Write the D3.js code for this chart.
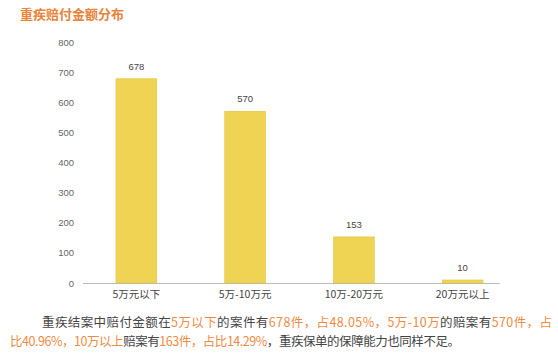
<!DOCTYPE html>
<html><head><meta charset="utf-8">
<script src="https://cdn.jsdelivr.net/npm/d3@7"></script>
<style>body{margin:0;background:#fff;}svg{display:block;font-family:"Noto Sans CJK SC","Noto Sans",sans-serif;}</style>
</head><body>
<svg id="c" width="558" height="358"></svg>
<script>
const categories = ["5万元以下","5万-10万元","10万-20万元","20万元以上"];
const values = [678, 570, 153, 10];
const yTicks = [0,100,200,300,400,500,600,700,800];
const title = "重疾赔付金额分布";
const line1 = [["重疾结案中赔付金额在",0],["5万以下",1],["的案件有",0],["678件，占48.05%，5万-10万",1],["的赔案有",0],["570件，占",1]];
const line2 = [["比40.96%，10万以上",1],["赔案有",0],["163件，占比14.29%",1],["，重疾保单的保障能力也同样不足。",0]];

const svg = d3.select("#c");
const x = d3.scaleBand().domain(categories).range([82,517]).paddingInner(0.625).paddingOuter(0.3125);
const y = d3.scaleLinear().domain([0,800]).range([283,42]);

svg.append("text").attr("x",20).attr("y",19).attr("fill","#e8843a").attr("font-size",13).attr("font-weight","bold").text(title);

const yAxis = svg.append("g").attr("transform","translate(83,0)").call(d3.axisLeft(y).tickValues(yTicks).tickSize(0).tickPadding(9));
yAxis.select(".domain").remove();
yAxis.selectAll("text").attr("fill","#666").attr("font-size",9.5).attr("font-family","Liberation Sans, Arial, sans-serif");

svg.append("line").attr("x1",83).attr("x2",500).attr("y1",283.5).attr("y2",283.5).attr("stroke","#bbb").attr("stroke-width",1.2);

svg.selectAll("rect.bar").data(values).join("rect").attr("class","bar")
  .attr("x",(d,i)=>x(categories[i])).attr("width",x.bandwidth())
  .attr("y",d=>y(d)).attr("height",d=>y(0)-y(d))
  .attr("fill","#efd453").attr("stroke","#e3c43e").attr("stroke-width",0.6);

svg.selectAll("text.val").data(values).join("text").attr("class","val")
  .attr("x",(d,i)=>x(categories[i])+x.bandwidth()/2).attr("y",d=>y(d)-9)
  .attr("text-anchor","middle").attr("fill","#444").attr("font-size",9.5)
  .attr("font-family","Liberation Sans, Arial, sans-serif").text(d=>d);

svg.selectAll("text.cat").data(categories).join("text").attr("class","cat")
  .attr("x",d=>x(d)+x.bandwidth()/2).attr("y",298).attr("text-anchor","middle")
  .attr("fill","#444").attr("font-size",10.5).text(d=>d);

function para(parts, px, py, len){
  const t = svg.append("text").attr("x",px).attr("y",py).attr("font-size",12.5)
    .attr("textLength",len).attr("lengthAdjust","spacing");
  parts.forEach(p=>t.append("tspan").attr("fill",p[1]?"#ef8b3f":"#444").text(p[0]));
}
para(line1,42,327,510);
para(line2,10,346,450);
</script>
</body></html>
